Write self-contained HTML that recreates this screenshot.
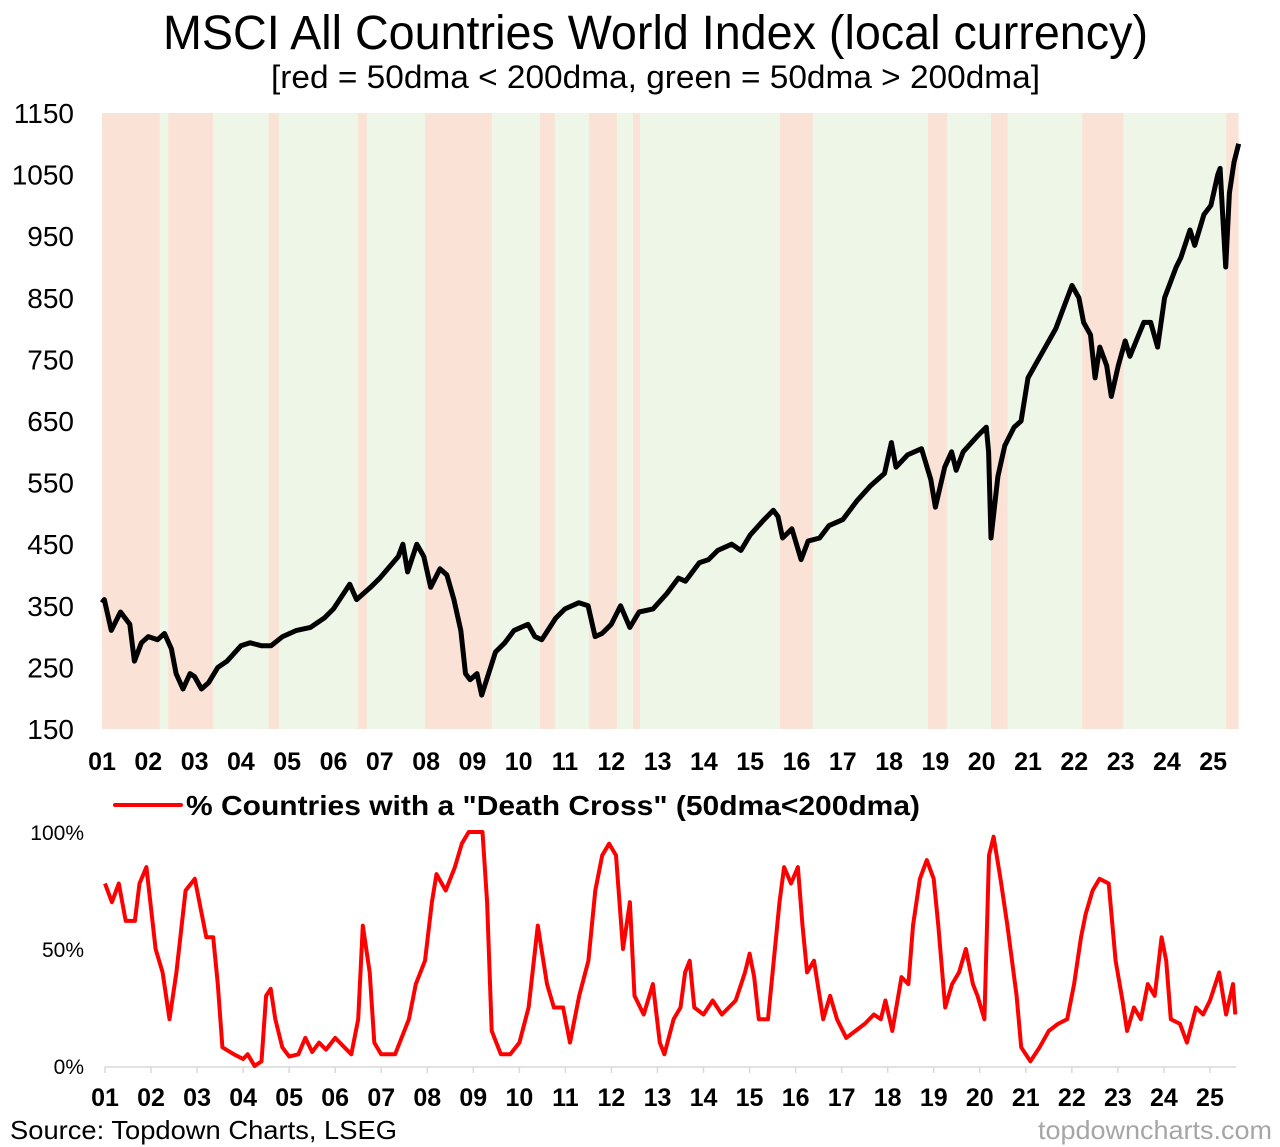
<!DOCTYPE html>
<html><head><meta charset="utf-8"><style>
body{margin:0;background:#fff;width:1280px;height:1147px;overflow:hidden;font-family:"Liberation Sans",Arial,sans-serif;}
svg{position:absolute;left:0;top:0}
</style></head><body>
<svg id="c" width="1280" height="1147">
<text x="163" y="49" font-size="48" textLength="985" lengthAdjust="spacingAndGlyphs">MSCI All Countries World Index (local currency)</text>
<text x="271" y="88" font-size="32" textLength="769" lengthAdjust="spacingAndGlyphs">[red = 50dma &lt; 200dma, green = 50dma &gt; 200dma]</text>
<g id="bands"></g>
<g id="yt"></g>
<g id="xt"></g>
<path id="idx" fill="none" stroke="#000" stroke-width="5" stroke-linejoin="round"/>
<line x1="115" y1="805" x2="181" y2="805" stroke="#ff0000" stroke-width="4" stroke-linecap="round"/>
<text x="186" y="815" font-size="28" font-weight="bold" textLength="734" lengthAdjust="spacingAndGlyphs">% Countries with a "Death Cross" (50dma&lt;200dma)</text>
<g id="yb"></g>
<g id="xb"></g>
<path id="dc" fill="none" stroke="#ff0000" stroke-width="4" stroke-linejoin="round"/>
<text x="10" y="1139" font-size="26" fill="#000" textLength="387" lengthAdjust="spacingAndGlyphs">Source: Topdown Charts, LSEG</text>
<text x="1038" y="1139" font-size="26" fill="#a6a6a6" textLength="234" lengthAdjust="spacingAndGlyphs">topdowncharts.com</text>
</svg>
<script>
const redBands=[[2001.0,2002.25],[2002.43,2003.4],[2004.6,2004.82],[2006.53,2006.72],[2007.98,2009.42],[2010.46,2010.78],[2011.52,2012.12],[2012.47,2012.62],[2015.64,2016.35],[2018.84,2019.25],[2020.2,2020.56],[2022.17,2023.06],[2025.28,2025.55]];
const yTicks=[150,250,350,450,550,650,750,850,950,1050,1150];
const yearLabels=["01","02","03","04","05","06","07","08","09","10","11","12","13","14","15","16","17","18","19","20","21","22","23","24","25"];
const pctTicks=[0,50,100];
const idxT=[2001.0,2001.05,2001.2,2001.4,2001.6,2001.7,2001.85,2002.0,2002.2,2002.35,2002.5,2002.6,2002.75,2002.9,2003.0,2003.15,2003.3,2003.5,2003.7,2004.0,2004.2,2004.45,2004.65,2004.9,2005.2,2005.5,2005.8,2006.0,2006.35,2006.5,2006.8,2007.0,2007.4,2007.5,2007.6,2007.8,2007.95,2008.1,2008.3,2008.45,2008.6,2008.75,2008.85,2008.95,2009.1,2009.2,2009.35,2009.5,2009.7,2009.9,2010.2,2010.35,2010.5,2010.8,2011.0,2011.3,2011.5,2011.65,2011.8,2012.0,2012.2,2012.4,2012.6,2012.9,2013.2,2013.45,2013.6,2013.9,2014.1,2014.3,2014.6,2014.8,2015.0,2015.3,2015.5,2015.6,2015.7,2015.9,2016.1,2016.25,2016.5,2016.7,2017.0,2017.3,2017.6,2017.9,2018.05,2018.15,2018.4,2018.7,2018.9,2019.0,2019.2,2019.35,2019.45,2019.6,2019.9,2020.1,2020.15,2020.2,2020.35,2020.5,2020.7,2020.85,2021.0,2021.3,2021.6,2021.8,2021.95,2022.1,2022.2,2022.35,2022.45,2022.55,2022.7,2022.8,2022.95,2023.1,2023.2,2023.5,2023.65,2023.8,2023.95,2024.2,2024.3,2024.5,2024.6,2024.8,2024.95,2025.1,2025.15,2025.2,2025.27,2025.35,2025.45,2025.55];
const idxV=[355,360,310,340,320,260,290,300,295,305,280,240,215,240,235,215,225,250,260,285,290,285,285,300,310,315,330,345,385,360,380,395,430,450,405,450,430,380,410,400,360,310,240,230,240,205,240,275,290,310,320,300,295,330,345,355,350,300,305,320,350,315,340,345,370,395,390,420,425,440,450,440,465,490,505,495,460,475,425,455,460,480,490,520,545,565,615,575,595,605,555,510,575,600,570,600,625,640,600,460,560,610,640,650,720,760,800,840,870,850,810,790,720,770,740,690,740,780,755,810,810,770,850,900,915,960,935,985,1000,1050,1060,990,900,1020,1070,1100];
const dcT=[2001.0,2001.15,2001.3,2001.45,2001.65,2001.75,2001.9,2002.1,2002.25,2002.4,2002.55,2002.75,2002.95,2003.1,2003.2,2003.35,2003.45,2003.55,2003.8,2004.0,2004.1,2004.25,2004.4,2004.5,2004.6,2004.7,2004.85,2005.0,2005.2,2005.35,2005.5,2005.65,2005.8,2006.0,2006.2,2006.35,2006.5,2006.6,2006.75,2006.85,2007.0,2007.3,2007.6,2007.75,2007.95,2008.1,2008.2,2008.4,2008.6,2008.75,2008.9,2009.2,2009.3,2009.4,2009.6,2009.8,2010.0,2010.2,2010.4,2010.6,2010.75,2010.95,2011.1,2011.3,2011.5,2011.65,2011.8,2011.95,2012.1,2012.25,2012.4,2012.5,2012.7,2012.9,2013.05,2013.15,2013.35,2013.5,2013.6,2013.7,2013.8,2014.0,2014.2,2014.4,2014.55,2014.7,2014.9,2015.0,2015.1,2015.2,2015.4,2015.5,2015.65,2015.75,2015.9,2016.05,2016.15,2016.25,2016.4,2016.6,2016.75,2016.9,2017.1,2017.3,2017.5,2017.7,2017.85,2017.95,2018.1,2018.3,2018.45,2018.55,2018.7,2018.85,2019.0,2019.1,2019.25,2019.4,2019.55,2019.7,2019.85,2019.95,2020.1,2020.2,2020.3,2020.45,2020.6,2020.8,2020.9,2021.1,2021.3,2021.5,2021.7,2021.9,2022.05,2022.2,2022.3,2022.45,2022.6,2022.8,2022.95,2023.1,2023.2,2023.35,2023.5,2023.65,2023.8,2023.95,2024.05,2024.15,2024.35,2024.5,2024.7,2024.85,2025.0,2025.2,2025.35,2025.5,2025.55];
const dcV=[78,70,78,62,62,78,85,50,40,20,40,75,80,65,55,55,35,8,5,3,5,0,2,30,33,20,8,4,5,12,6,10,7,12,8,5,20,60,40,10,5,5,20,35,45,70,82,75,85,95,100,100,70,15,5,5,10,25,60,35,25,25,10,30,45,75,90,95,90,50,70,30,22,35,10,5,20,25,40,45,25,22,28,22,25,28,40,48,38,20,20,40,70,85,78,85,60,40,45,20,30,20,12,15,18,22,20,28,15,38,35,60,80,88,80,60,25,35,40,50,35,30,20,90,98,80,60,30,8,2,8,15,18,20,35,55,65,75,80,78,45,28,15,25,20,35,30,55,45,20,18,10,25,22,28,40,22,35,22];

const NS="http://www.w3.org/2000/svg";
function mk(tag,attrs,parent,txt){const e=document.createElementNS(NS,tag);for(const k in attrs)e.setAttribute(k,attrs[k]);if(txt!==undefined)e.textContent=txt;parent.appendChild(e);return e;}
const tx=t=>102+(t-2001)*46.3;
const ty=v=>729-(v-150)*0.616;
const bx=t=>105+(t-2001)*46.04;
const by=p=>1066-p*2.34;

const bands=document.getElementById('bands');
mk('rect',{x:102,y:113,width:1136,height:616,fill:'#eef6e8'},bands);
redBands.forEach(b=>{
  const r=mk('rect',{x:tx(b[0]),y:113,width:tx(b[1])-tx(b[0]),height:616,fill:'#fae3d6'},bands);
  
  
});
const yt=document.getElementById('yt');
yTicks.forEach(v=>{const t=mk('text',{x:74,y:ty(v)+10,'text-anchor':'end','font-size':28},yt,String(v));
  
  });
const xt=document.getElementById('xt');
yearLabels.forEach((l,i)=>{const t=mk('text',{x:tx(2001+i),y:770,'text-anchor':'middle','font-size':25,'font-weight':'bold'},xt,l);
  
  });
document.getElementById('idx').setAttribute('d',idxT.map((t,i)=>(i?'L':'M')+tx(t).toFixed(1)+' '+ty(idxV[i]).toFixed(1)).join(''));

const yb=document.getElementById('yb');
pctTicks.forEach(p=>{const t=mk('text',{x:84,y:by(p)+8,'text-anchor':'end','font-size':21},yb,p+'%');
  
  });
const xb=document.getElementById('xb');
mk('line',{x1:105,y1:1067,x2:1236,y2:1067,stroke:'#d9d9d9','stroke-width':1.5},xb);
yearLabels.forEach((l,i)=>{const x=bx(2001+i);
  mk('line',{x1:x,y1:1067,x2:x,y2:1073,stroke:'#d9d9d9','stroke-width':1.5},xb);
  const t=mk('text',{x:x,y:1106,'text-anchor':'middle','font-size':25,'font-weight':'bold'},xb,l);
  
  });
document.getElementById('dc').setAttribute('d',dcT.map((t,i)=>(i?'L':'M')+bx(t).toFixed(1)+' '+by(dcV[i]).toFixed(1)).join(''));
</script>
</body></html>
